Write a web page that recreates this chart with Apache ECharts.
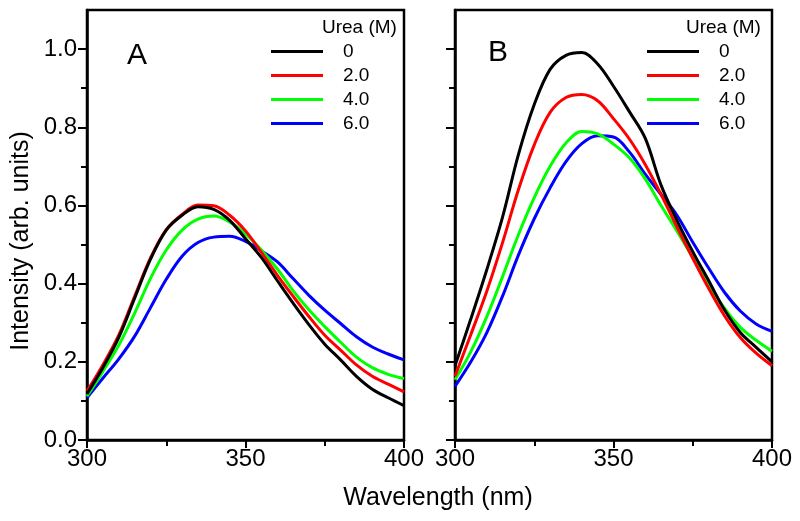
<!DOCTYPE html>
<html><head><meta charset="utf-8">
<script src="https://cdn.jsdelivr.net/npm/echarts@6/dist/echarts.min.js"></script>
<style>html,body{margin:0;padding:0;background:#fff}#chart{width:800px;height:521px}</style>
</head><body><div id="chart"></div>
<script>
// ---- data ----
const wavelengths = [300,305,310,315,320,325,330,335,340,345,350,355,360,365,370,375,380,385,390,395,400];
const seriesNames = ['0','2.0','4.0','6.0'];
const seriesColors = ['#000000','#ff0000','#00ff00','#0000ff'];

// Panel A
const panelA_0M = [0.118,0.185,0.262,0.362,0.462,0.537,0.575,0.597,0.590,0.562,0.515,0.467,0.408,0.350,0.295,0.245,0.205,0.163,0.130,0.108,0.088];
const panelA_2M = [0.125,0.192,0.268,0.367,0.465,0.538,0.577,0.601,0.599,0.575,0.535,0.480,0.422,0.368,0.316,0.268,0.230,0.192,0.163,0.143,0.123];
const panelA_4M = [0.112,0.175,0.242,0.324,0.413,0.486,0.537,0.565,0.573,0.558,0.527,0.486,0.438,0.382,0.333,0.290,0.250,0.212,0.185,0.168,0.157];
const panelA_6M = [0.108,0.158,0.207,0.265,0.338,0.411,0.470,0.505,0.519,0.521,0.508,0.484,0.456,0.413,0.370,0.332,0.298,0.264,0.238,0.220,0.205];

// Panel B
const panelB_0M = [0.190,0.310,0.435,0.570,0.730,0.858,0.948,0.984,0.991,0.962,0.905,0.840,0.772,0.652,0.562,0.482,0.408,0.333,0.275,0.237,0.200];
const panelB_2M = [0.163,0.270,0.380,0.505,0.640,0.755,0.838,0.876,0.884,0.868,0.822,0.770,0.705,0.628,0.545,0.465,0.388,0.318,0.262,0.222,0.190];
const panelB_4M = [0.154,0.226,0.315,0.418,0.525,0.620,0.700,0.760,0.789,0.783,0.757,0.722,0.668,0.600,0.535,0.467,0.398,0.337,0.288,0.255,0.227];
const panelB_6M = [0.137,0.200,0.274,0.368,0.473,0.566,0.645,0.712,0.758,0.778,0.775,0.737,0.680,0.628,0.575,0.506,0.440,0.378,0.330,0.297,0.278];

const xTickValues = [300,350,400];
const yMajorTicks = [0,0.2,0.4,0.6,0.8,1.0];
const yMinorTicks = [0.1,0.3,0.5,0.7,0.9];
const panelLetters = ['A','B'];
const legendTitle = 'Urea (M)';
const xTitle = 'Wavelength (nm)';
const yTitle = 'Intensity (arb. units)';

// ---- chart ----
const FONT = '"Liberation Sans", Arial, sans-serif';
const panels = [
  [panelA_0M, panelA_2M, panelA_4M, panelA_6M],
  [panelB_0M, panelB_2M, panelB_4M, panelB_6M]
];
const gridLefts = [87, 455];
const gridW = 317, gridTop = 10, gridH = 430;

const grid = gridLefts.map(l => ({left:l, top:gridTop, width:gridW, height:gridH, show:true, borderColor:'#000', borderWidth:2.5, backgroundColor:'transparent'}));

const xAxis = gridLefts.map((l,i) => ({
  type:'value', gridIndex:i, min:xTickValues[0], max:xTickValues[xTickValues.length-1], interval:50,
  axisLine:{show:true, lineStyle:{color:'#000', width:2.5}},
  axisTick:{show:true, length:8, lineStyle:{color:'#000', width:2}},
  minorTick:{show:true, splitNumber:2, length:6, lineStyle:{color:'#000', width:2}},
  axisLabel:{fontSize:24, color:'#000', margin:7, fontFamily:FONT},
  splitLine:{show:false}
}));

const yAxis = [];
gridLefts.forEach((l,i) => {
  yAxis.push({
    type:'value', gridIndex:i, min:0, max:1.1, interval:0.1, position:'left',
    axisLine:{show:true, lineStyle:{color:'#000', width:2.5}},
    axisTick:{show:true, length:9, customValues:yMajorTicks, lineStyle:{color:'#000', width:2}},
    axisLabel:{show:i===0, customValues:yMajorTicks, fontSize:24, color:'#000', margin:10, fontFamily:FONT,
      formatter:v => v.toFixed(1)},
    splitLine:{show:false}
  });
  yAxis.push({
    type:'value', gridIndex:i, min:0, max:1.1, interval:0.1, position:'left',
    axisLine:{show:false},
    axisTick:{show:true, length:6, customValues:yMinorTicks, lineStyle:{color:'#000', width:2}},
    axisLabel:{show:false},
    splitLine:{show:false}
  });
});

const series = [];
panels.forEach((sets, p) => {
  sets.forEach((vals, k) => {
    series.push({
      type:'line', name:seriesNames[k], xAxisIndex:p, yAxisIndex:p*2,
      data: wavelengths.map((w,j) => [w, vals[j]]),
      smooth:0.35, showSymbol:false, symbol:'none',
      lineStyle:{color:seriesColors[k], width:3}, itemStyle:{color:seriesColors[k]},
      z: 10 - k
    });
  });
});

const legendLefts = [271, 647];
const legend = legendLefts.map(l => ({
  data: seriesNames, orient:'vertical', left:l, top:42, padding:0,
  icon:'rect', itemWidth:52, itemHeight:3, itemGap:5,
  textStyle:{fontSize:19, lineHeight:19, color:'#000', fontFamily:FONT, padding:[0,0,0,15]},
  selectedMode:false
}));

const graphic = [
  {type:'text', x:21, y:241, rotation:Math.PI/2, style:{text:yTitle, fontSize:25, fontFamily:FONT, fill:'#000', align:'center', verticalAlign:'middle'}},
  {type:'text', x:438, y:498, style:{text:xTitle, fontSize:25, fontFamily:FONT, fill:'#000', align:'center', verticalAlign:'middle'}},
  {type:'text', x:137, y:56, style:{text:panelLetters[0], fontSize:30, fontFamily:FONT, fill:'#000', align:'center', verticalAlign:'middle'}},
  {type:'text', x:498, y:53, style:{text:panelLetters[1], fontSize:30, fontFamily:FONT, fill:'#000', align:'center', verticalAlign:'middle'}},
  {type:'text', x:322, y:28, style:{text:legendTitle, fontSize:19, fontFamily:FONT, fill:'#000', align:'left', verticalAlign:'middle'}},
  {type:'text', x:686, y:28, style:{text:legendTitle, fontSize:19, fontFamily:FONT, fill:'#000', align:'left', verticalAlign:'middle'}}
];

const chart = echarts.init(document.getElementById('chart'), null, {renderer:'canvas'});
chart.setOption({animation:false, backgroundColor:'#fff', grid, xAxis, yAxis, series, legend, graphic});
</script></body></html>
